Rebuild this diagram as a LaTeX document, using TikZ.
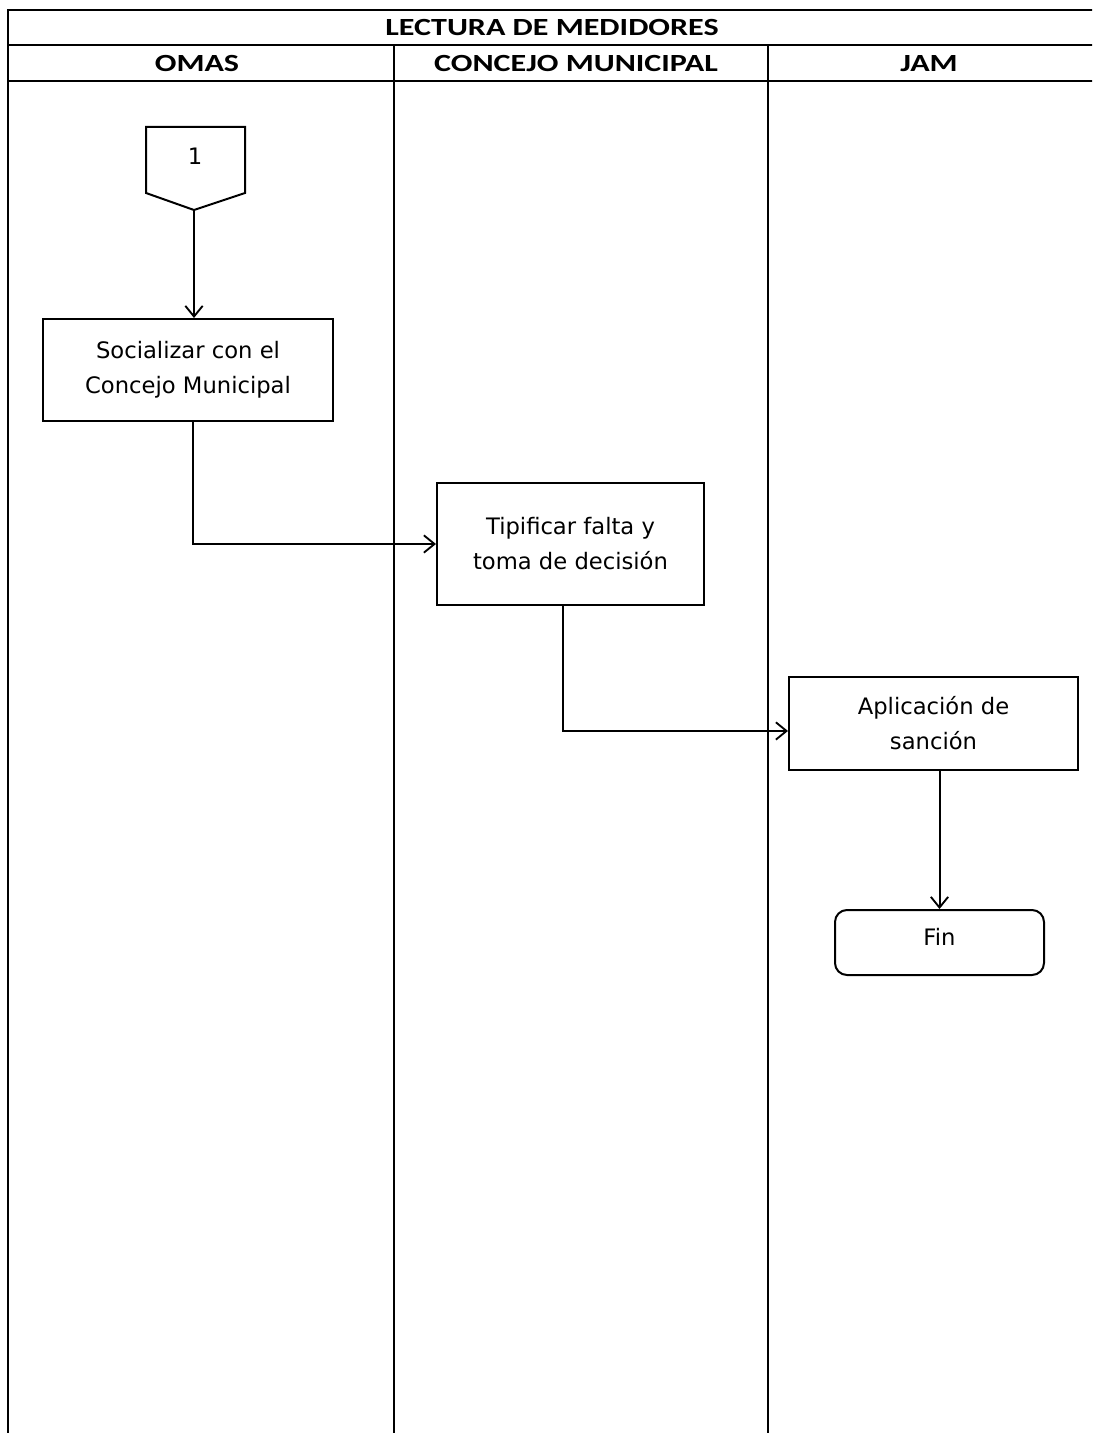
\documentclass[tikz,border=0pt]{standalone}
\usepackage{fontspec}
\setmainfont{DejaVu Sans}
\newfontfamily\hdrfont[FakeStretch=1.3]{Carlito}
\usetikzlibrary{arrows.meta,calc}
\begin{document}
\begin{tikzpicture}[x=0.75pt,y=-0.75pt,
  line width=1.5pt,
  >={Straight Barb[length=8pt,width=13pt,line width=1.4pt]},
  hdr/.style={font=\hdrfont\bfseries\fontsize{18.5}{20}\selectfont, inner sep=0pt},
  procbox/.style={draw, line width=1.5pt, align=center, inner sep=0pt,
    font=\fontsize{17}{26.25}\selectfont},
  endbox/.style={procbox, rounded corners=9pt},
  txt/.style={font=\fontsize{17}{26.25}\selectfont, inner sep=0pt}]
\useasboundingbox (0,0) rectangle (1092,1433);
\clip (0,0) rectangle (1092,1433);
% table frame
\draw (1110,10) -- (8,10) -- (8,1440);
\draw (8,45) -- (1110,45);
\draw (8,81) -- (1110,81);
\draw (394,45) -- (394,1440);
\draw (768,45) -- (768,1440);
\node[hdr] (title) at (552,28) {LECTURA DE MEDIDORES};
\node[hdr] (omas) at (197,64) {OMAS};
\node[hdr] (concejo) at (576,64) {CONCEJO MUNICIPAL};
\node[hdr] (jam) at (929,64) {JAM};
% off-page connector
\draw (146,127) -- (245,127) -- (245,193) -- (194,210) -- (146,193) -- cycle;
\coordinate (c1tip) at (194,210);
\node[txt] (c1) at (195,156) {1};
% process boxes
\node[procbox, minimum width=217.5pt, minimum height=76.5pt] (soc) at (188,370)
  {Socializar con el\\Concejo Municipal};
\node[procbox, minimum width=200.25pt, minimum height=91.5pt] (tip) at (570.5,544)
  {Tipificar falta y\\toma de decisión};
\node[procbox, minimum width=216.75pt, minimum height=69.75pt] (apl) at (933.5,723.5)
  {Aplicación de\\sanción};
\node[endbox, minimum width=156.75pt, minimum height=48.75pt] (fin) at (939.5,942.5) {};
\node[txt] (fintxt) at (939.5,937) {Fin};
% connectors
\draw[->] (c1tip) -- (c1tip |- soc.north);
\draw[->] ([xshift=3.75pt]soc.south) |- (tip.west);
\draw[->] ([xshift=-5.6pt]tip.south) |- ([yshift=-5.6pt]apl.west);
\draw[->] (apl.south -| fin.north) -- (fin.north);
\end{tikzpicture}
\end{document}
